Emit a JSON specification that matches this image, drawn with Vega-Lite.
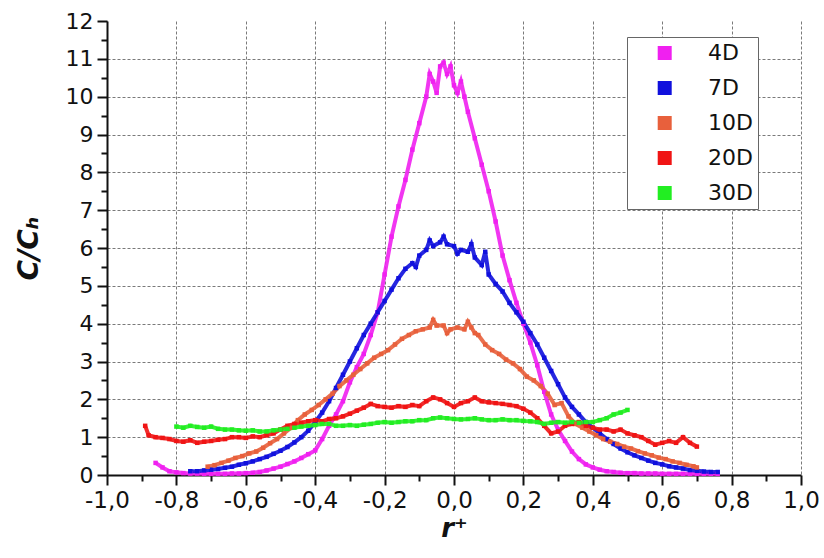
{
  "$schema": "https://vega.github.io/schema/vega-lite/v6.json",
  "width": 694,
  "height": 454,
  "autosize": {"type": "none"},
  "padding": {"left": 107, "top": 21, "right": 23, "bottom": 83},
  "background": "white",
  "config": {
    "font": "DejaVu Sans",
    "view": {"stroke": null},
    "axis": {"labelFont": "DejaVu Sans", "titleFont": "DejaVu Sans", "labelColor": "#111", "titleColor": "#111"},
    "legend": {"labelOffset": 54, "padding": 5, "rowPadding": 13, "labelFontSize": 22, "symbolSize": 196, "symbolOpacity": 1}
  },
  "datasets": {
    "d": [
      {"r":-0.86,"v":0.32,"s":"4D"},{"r":-0.84,"v":0.2,"s":"4D"},{"r":-0.82,"v":0.1,"s":"4D"},{"r":-0.8,"v":0.07,"s":"4D"},{"r":-0.78,"v":0.05,"s":"4D"},{"r":-0.76,"v":0.04,"s":"4D"},{"r":-0.74,"v":0.04,"s":"4D"},{"r":-0.72,"v":0.03,"s":"4D"},{"r":-0.7,"v":0.03,"s":"4D"},{"r":-0.68,"v":0.03,"s":"4D"},{"r":-0.66,"v":0.03,"s":"4D"},{"r":-0.64,"v":0.04,"s":"4D"},{"r":-0.62,"v":0.04,"s":"4D"},{"r":-0.6,"v":0.05,"s":"4D"},{"r":-0.58,"v":0.06,"s":"4D"},{"r":-0.56,"v":0.08,"s":"4D"},{"r":-0.54,"v":0.12,"s":"4D"},{"r":-0.52,"v":0.17,"s":"4D"},{"r":-0.5,"v":0.22,"s":"4D"},{"r":-0.48,"v":0.29,"s":"4D"},{"r":-0.46,"v":0.36,"s":"4D"},{"r":-0.44,"v":0.45,"s":"4D"},{"r":-0.42,"v":0.55,"s":"4D"},{"r":-0.4,"v":0.65,"s":"4D"},{"r":-0.38,"v":0.95,"s":"4D"},{"r":-0.36,"v":1.3,"s":"4D"},{"r":-0.34,"v":1.6,"s":"4D"},{"r":-0.32,"v":1.95,"s":"4D"},{"r":-0.3,"v":2.45,"s":"4D"},{"r":-0.28,"v":2.85,"s":"4D"},{"r":-0.26,"v":3.2,"s":"4D"},{"r":-0.24,"v":3.7,"s":"4D"},{"r":-0.22,"v":4.3,"s":"4D"},{"r":-0.2,"v":5.3,"s":"4D"},{"r":-0.18,"v":6.3,"s":"4D"},{"r":-0.16,"v":7.1,"s":"4D"},{"r":-0.14,"v":7.8,"s":"4D"},{"r":-0.12,"v":8.6,"s":"4D"},{"r":-0.1,"v":9.3,"s":"4D"},{"r":-0.08,"v":10.0,"s":"4D"},{"r":-0.07,"v":10.6,"s":"4D"},{"r":-0.06,"v":10.4,"s":"4D"},{"r":-0.05,"v":10.1,"s":"4D"},{"r":-0.04,"v":10.8,"s":"4D"},{"r":-0.03,"v":10.9,"s":"4D"},{"r":-0.02,"v":10.6,"s":"4D"},{"r":-0.01,"v":10.8,"s":"4D"},{"r":0.0,"v":10.3,"s":"4D"},{"r":0.01,"v":10.1,"s":"4D"},{"r":0.02,"v":10.4,"s":"4D"},{"r":0.03,"v":10.0,"s":"4D"},{"r":0.04,"v":9.6,"s":"4D"},{"r":0.06,"v":8.9,"s":"4D"},{"r":0.08,"v":8.2,"s":"4D"},{"r":0.1,"v":7.5,"s":"4D"},{"r":0.12,"v":6.7,"s":"4D"},{"r":0.14,"v":5.8,"s":"4D"},{"r":0.16,"v":5.15,"s":"4D"},{"r":0.18,"v":4.55,"s":"4D"},{"r":0.2,"v":4.0,"s":"4D"},{"r":0.22,"v":3.5,"s":"4D"},{"r":0.24,"v":2.9,"s":"4D"},{"r":0.26,"v":2.2,"s":"4D"},{"r":0.28,"v":1.6,"s":"4D"},{"r":0.3,"v":1.2,"s":"4D"},{"r":0.32,"v":0.9,"s":"4D"},{"r":0.34,"v":0.62,"s":"4D"},{"r":0.36,"v":0.42,"s":"4D"},{"r":0.38,"v":0.28,"s":"4D"},{"r":0.4,"v":0.2,"s":"4D"},{"r":0.42,"v":0.14,"s":"4D"},{"r":0.44,"v":0.1,"s":"4D"},{"r":0.46,"v":0.08,"s":"4D"},{"r":0.48,"v":0.06,"s":"4D"},{"r":0.5,"v":0.05,"s":"4D"},{"r":0.52,"v":0.05,"s":"4D"},{"r":0.54,"v":0.04,"s":"4D"},{"r":0.56,"v":0.04,"s":"4D"},{"r":0.58,"v":0.04,"s":"4D"},{"r":0.6,"v":0.03,"s":"4D"},{"r":0.62,"v":0.03,"s":"4D"},{"r":0.64,"v":0.03,"s":"4D"},{"r":0.66,"v":0.03,"s":"4D"},{"r":0.68,"v":0.03,"s":"4D"},{"r":0.7,"v":0.03,"s":"4D"},{"r":0.72,"v":0.03,"s":"4D"},{"r":0.74,"v":0.03,"s":"4D"},{"r":0.76,"v":0.03,"s":"4D"},

      {"r":-0.76,"v":0.1,"s":"7D"},{"r":-0.74,"v":0.1,"s":"7D"},{"r":-0.72,"v":0.12,"s":"7D"},{"r":-0.7,"v":0.14,"s":"7D"},{"r":-0.68,"v":0.16,"s":"7D"},{"r":-0.66,"v":0.19,"s":"7D"},{"r":-0.64,"v":0.22,"s":"7D"},{"r":-0.62,"v":0.27,"s":"7D"},{"r":-0.6,"v":0.31,"s":"7D"},{"r":-0.58,"v":0.36,"s":"7D"},{"r":-0.56,"v":0.42,"s":"7D"},{"r":-0.54,"v":0.48,"s":"7D"},{"r":-0.52,"v":0.56,"s":"7D"},{"r":-0.5,"v":0.64,"s":"7D"},{"r":-0.48,"v":0.74,"s":"7D"},{"r":-0.46,"v":0.86,"s":"7D"},{"r":-0.44,"v":1.0,"s":"7D"},{"r":-0.42,"v":1.17,"s":"7D"},{"r":-0.4,"v":1.4,"s":"7D"},{"r":-0.38,"v":1.65,"s":"7D"},{"r":-0.36,"v":1.95,"s":"7D"},{"r":-0.34,"v":2.3,"s":"7D"},{"r":-0.32,"v":2.65,"s":"7D"},{"r":-0.3,"v":3.0,"s":"7D"},{"r":-0.28,"v":3.35,"s":"7D"},{"r":-0.26,"v":3.7,"s":"7D"},{"r":-0.24,"v":4.0,"s":"7D"},{"r":-0.22,"v":4.3,"s":"7D"},{"r":-0.2,"v":4.6,"s":"7D"},{"r":-0.18,"v":4.9,"s":"7D"},{"r":-0.16,"v":5.2,"s":"7D"},{"r":-0.14,"v":5.45,"s":"7D"},{"r":-0.12,"v":5.6,"s":"7D"},{"r":-0.11,"v":5.5,"s":"7D"},{"r":-0.1,"v":5.8,"s":"7D"},{"r":-0.08,"v":5.95,"s":"7D"},{"r":-0.07,"v":6.2,"s":"7D"},{"r":-0.06,"v":6.05,"s":"7D"},{"r":-0.04,"v":6.15,"s":"7D"},{"r":-0.03,"v":6.3,"s":"7D"},{"r":-0.02,"v":6.1,"s":"7D"},{"r":0.0,"v":6.05,"s":"7D"},{"r":0.01,"v":5.85,"s":"7D"},{"r":0.02,"v":5.95,"s":"7D"},{"r":0.04,"v":5.9,"s":"7D"},{"r":0.05,"v":6.1,"s":"7D"},{"r":0.06,"v":5.75,"s":"7D"},{"r":0.08,"v":5.55,"s":"7D"},{"r":0.09,"v":5.9,"s":"7D"},{"r":0.1,"v":5.3,"s":"7D"},{"r":0.12,"v":5.05,"s":"7D"},{"r":0.14,"v":4.85,"s":"7D"},{"r":0.16,"v":4.55,"s":"7D"},{"r":0.18,"v":4.3,"s":"7D"},{"r":0.2,"v":4.05,"s":"7D"},{"r":0.22,"v":3.75,"s":"7D"},{"r":0.24,"v":3.45,"s":"7D"},{"r":0.26,"v":3.1,"s":"7D"},{"r":0.28,"v":2.75,"s":"7D"},{"r":0.3,"v":2.4,"s":"7D"},{"r":0.32,"v":2.05,"s":"7D"},{"r":0.34,"v":1.8,"s":"7D"},{"r":0.36,"v":1.6,"s":"7D"},{"r":0.38,"v":1.4,"s":"7D"},{"r":0.4,"v":1.25,"s":"7D"},{"r":0.42,"v":1.1,"s":"7D"},{"r":0.44,"v":0.95,"s":"7D"},{"r":0.46,"v":0.82,"s":"7D"},{"r":0.48,"v":0.7,"s":"7D"},{"r":0.5,"v":0.6,"s":"7D"},{"r":0.52,"v":0.52,"s":"7D"},{"r":0.54,"v":0.45,"s":"7D"},{"r":0.56,"v":0.38,"s":"7D"},{"r":0.58,"v":0.32,"s":"7D"},{"r":0.6,"v":0.28,"s":"7D"},{"r":0.62,"v":0.23,"s":"7D"},{"r":0.64,"v":0.2,"s":"7D"},{"r":0.66,"v":0.17,"s":"7D"},{"r":0.68,"v":0.13,"s":"7D"},{"r":0.7,"v":0.11,"s":"7D"},{"r":0.72,"v":0.09,"s":"7D"},{"r":0.74,"v":0.08,"s":"7D"},{"r":0.76,"v":0.08,"s":"7D"},

      {"r":-0.71,"v":0.22,"s":"10D"},{"r":-0.69,"v":0.26,"s":"10D"},{"r":-0.67,"v":0.32,"s":"10D"},{"r":-0.65,"v":0.38,"s":"10D"},{"r":-0.63,"v":0.45,"s":"10D"},{"r":-0.61,"v":0.5,"s":"10D"},{"r":-0.59,"v":0.57,"s":"10D"},{"r":-0.57,"v":0.62,"s":"10D"},{"r":-0.55,"v":0.72,"s":"10D"},{"r":-0.53,"v":0.84,"s":"10D"},{"r":-0.51,"v":0.95,"s":"10D"},{"r":-0.49,"v":1.1,"s":"10D"},{"r":-0.47,"v":1.25,"s":"10D"},{"r":-0.45,"v":1.45,"s":"10D"},{"r":-0.43,"v":1.6,"s":"10D"},{"r":-0.41,"v":1.72,"s":"10D"},{"r":-0.39,"v":1.85,"s":"10D"},{"r":-0.37,"v":2.0,"s":"10D"},{"r":-0.35,"v":2.15,"s":"10D"},{"r":-0.33,"v":2.35,"s":"10D"},{"r":-0.31,"v":2.5,"s":"10D"},{"r":-0.29,"v":2.65,"s":"10D"},{"r":-0.27,"v":2.8,"s":"10D"},{"r":-0.25,"v":2.95,"s":"10D"},{"r":-0.23,"v":3.1,"s":"10D"},{"r":-0.21,"v":3.2,"s":"10D"},{"r":-0.19,"v":3.3,"s":"10D"},{"r":-0.17,"v":3.45,"s":"10D"},{"r":-0.15,"v":3.6,"s":"10D"},{"r":-0.13,"v":3.7,"s":"10D"},{"r":-0.11,"v":3.8,"s":"10D"},{"r":-0.09,"v":3.85,"s":"10D"},{"r":-0.07,"v":3.9,"s":"10D"},{"r":-0.06,"v":4.1,"s":"10D"},{"r":-0.05,"v":3.95,"s":"10D"},{"r":-0.03,"v":3.95,"s":"10D"},{"r":-0.02,"v":3.75,"s":"10D"},{"r":-0.01,"v":3.85,"s":"10D"},{"r":0.01,"v":3.9,"s":"10D"},{"r":0.03,"v":3.85,"s":"10D"},{"r":0.04,"v":4.05,"s":"10D"},{"r":0.05,"v":3.9,"s":"10D"},{"r":0.06,"v":3.75,"s":"10D"},{"r":0.07,"v":3.7,"s":"10D"},{"r":0.09,"v":3.45,"s":"10D"},{"r":0.11,"v":3.3,"s":"10D"},{"r":0.13,"v":3.2,"s":"10D"},{"r":0.15,"v":3.05,"s":"10D"},{"r":0.17,"v":2.95,"s":"10D"},{"r":0.19,"v":2.8,"s":"10D"},{"r":0.21,"v":2.6,"s":"10D"},{"r":0.23,"v":2.5,"s":"10D"},{"r":0.25,"v":2.35,"s":"10D"},{"r":0.27,"v":2.15,"s":"10D"},{"r":0.29,"v":1.85,"s":"10D"},{"r":0.31,"v":1.9,"s":"10D"},{"r":0.33,"v":1.55,"s":"10D"},{"r":0.35,"v":1.35,"s":"10D"},{"r":0.37,"v":1.25,"s":"10D"},{"r":0.39,"v":1.15,"s":"10D"},{"r":0.41,"v":1.05,"s":"10D"},{"r":0.43,"v":0.95,"s":"10D"},{"r":0.45,"v":0.88,"s":"10D"},{"r":0.47,"v":0.82,"s":"10D"},{"r":0.49,"v":0.75,"s":"10D"},{"r":0.51,"v":0.7,"s":"10D"},{"r":0.53,"v":0.63,"s":"10D"},{"r":0.55,"v":0.57,"s":"10D"},{"r":0.57,"v":0.52,"s":"10D"},{"r":0.59,"v":0.46,"s":"10D"},{"r":0.61,"v":0.42,"s":"10D"},{"r":0.63,"v":0.36,"s":"10D"},{"r":0.65,"v":0.32,"s":"10D"},{"r":0.67,"v":0.27,"s":"10D"},{"r":0.69,"v":0.23,"s":"10D"},{"r":0.7,"v":0.2,"s":"10D"},

      {"r":-0.89,"v":1.3,"s":"20D"},{"r":-0.88,"v":1.05,"s":"20D"},{"r":-0.86,"v":1.0,"s":"20D"},{"r":-0.84,"v":0.98,"s":"20D"},{"r":-0.82,"v":0.95,"s":"20D"},{"r":-0.8,"v":0.9,"s":"20D"},{"r":-0.78,"v":0.88,"s":"20D"},{"r":-0.76,"v":0.92,"s":"20D"},{"r":-0.74,"v":0.85,"s":"20D"},{"r":-0.72,"v":0.88,"s":"20D"},{"r":-0.7,"v":0.9,"s":"20D"},{"r":-0.68,"v":0.93,"s":"20D"},{"r":-0.66,"v":0.95,"s":"20D"},{"r":-0.64,"v":1.0,"s":"20D"},{"r":-0.62,"v":1.0,"s":"20D"},{"r":-0.6,"v":0.98,"s":"20D"},{"r":-0.58,"v":1.02,"s":"20D"},{"r":-0.56,"v":1.0,"s":"20D"},{"r":-0.54,"v":1.05,"s":"20D"},{"r":-0.52,"v":1.1,"s":"20D"},{"r":-0.5,"v":1.2,"s":"20D"},{"r":-0.48,"v":1.3,"s":"20D"},{"r":-0.46,"v":1.35,"s":"20D"},{"r":-0.44,"v":1.38,"s":"20D"},{"r":-0.42,"v":1.42,"s":"20D"},{"r":-0.4,"v":1.45,"s":"20D"},{"r":-0.38,"v":1.42,"s":"20D"},{"r":-0.36,"v":1.48,"s":"20D"},{"r":-0.34,"v":1.5,"s":"20D"},{"r":-0.32,"v":1.55,"s":"20D"},{"r":-0.3,"v":1.62,"s":"20D"},{"r":-0.28,"v":1.7,"s":"20D"},{"r":-0.26,"v":1.78,"s":"20D"},{"r":-0.24,"v":1.88,"s":"20D"},{"r":-0.22,"v":1.82,"s":"20D"},{"r":-0.2,"v":1.8,"s":"20D"},{"r":-0.18,"v":1.78,"s":"20D"},{"r":-0.16,"v":1.82,"s":"20D"},{"r":-0.14,"v":1.8,"s":"20D"},{"r":-0.12,"v":1.85,"s":"20D"},{"r":-0.1,"v":1.82,"s":"20D"},{"r":-0.08,"v":1.95,"s":"20D"},{"r":-0.06,"v":2.05,"s":"20D"},{"r":-0.04,"v":2.0,"s":"20D"},{"r":-0.02,"v":1.9,"s":"20D"},{"r":0.0,"v":1.8,"s":"20D"},{"r":0.02,"v":1.9,"s":"20D"},{"r":0.04,"v":1.95,"s":"20D"},{"r":0.06,"v":2.05,"s":"20D"},{"r":0.08,"v":1.95,"s":"20D"},{"r":0.1,"v":1.92,"s":"20D"},{"r":0.12,"v":1.9,"s":"20D"},{"r":0.14,"v":1.88,"s":"20D"},{"r":0.16,"v":1.85,"s":"20D"},{"r":0.18,"v":1.82,"s":"20D"},{"r":0.2,"v":1.75,"s":"20D"},{"r":0.22,"v":1.65,"s":"20D"},{"r":0.24,"v":1.5,"s":"20D"},{"r":0.26,"v":1.3,"s":"20D"},{"r":0.28,"v":1.1,"s":"20D"},{"r":0.3,"v":1.15,"s":"20D"},{"r":0.32,"v":1.3,"s":"20D"},{"r":0.34,"v":1.35,"s":"20D"},{"r":0.36,"v":1.4,"s":"20D"},{"r":0.38,"v":1.3,"s":"20D"},{"r":0.4,"v":1.25,"s":"20D"},{"r":0.42,"v":1.2,"s":"20D"},{"r":0.44,"v":1.2,"s":"20D"},{"r":0.46,"v":1.15,"s":"20D"},{"r":0.48,"v":1.2,"s":"20D"},{"r":0.5,"v":1.1,"s":"20D"},{"r":0.52,"v":1.05,"s":"20D"},{"r":0.54,"v":1.0,"s":"20D"},{"r":0.56,"v":0.9,"s":"20D"},{"r":0.58,"v":0.8,"s":"20D"},{"r":0.6,"v":0.85,"s":"20D"},{"r":0.62,"v":0.9,"s":"20D"},{"r":0.64,"v":0.85,"s":"20D"},{"r":0.66,"v":1.0,"s":"20D"},{"r":0.68,"v":0.85,"s":"20D"},{"r":0.7,"v":0.75,"s":"20D"},

      {"r":-0.8,"v":1.28,"s":"30D"},{"r":-0.78,"v":1.25,"s":"30D"},{"r":-0.76,"v":1.3,"s":"30D"},{"r":-0.74,"v":1.27,"s":"30D"},{"r":-0.72,"v":1.25,"s":"30D"},{"r":-0.7,"v":1.28,"s":"30D"},{"r":-0.68,"v":1.22,"s":"30D"},{"r":-0.66,"v":1.2,"s":"30D"},{"r":-0.64,"v":1.2,"s":"30D"},{"r":-0.62,"v":1.18,"s":"30D"},{"r":-0.6,"v":1.17,"s":"30D"},{"r":-0.58,"v":1.18,"s":"30D"},{"r":-0.56,"v":1.15,"s":"30D"},{"r":-0.54,"v":1.15,"s":"30D"},{"r":-0.52,"v":1.18,"s":"30D"},{"r":-0.5,"v":1.2,"s":"30D"},{"r":-0.48,"v":1.22,"s":"30D"},{"r":-0.46,"v":1.25,"s":"30D"},{"r":-0.44,"v":1.28,"s":"30D"},{"r":-0.42,"v":1.3,"s":"30D"},{"r":-0.4,"v":1.32,"s":"30D"},{"r":-0.38,"v":1.35,"s":"30D"},{"r":-0.36,"v":1.35,"s":"30D"},{"r":-0.34,"v":1.3,"s":"30D"},{"r":-0.32,"v":1.3,"s":"30D"},{"r":-0.3,"v":1.32,"s":"30D"},{"r":-0.28,"v":1.3,"s":"30D"},{"r":-0.26,"v":1.33,"s":"30D"},{"r":-0.24,"v":1.35,"s":"30D"},{"r":-0.22,"v":1.38,"s":"30D"},{"r":-0.2,"v":1.4,"s":"30D"},{"r":-0.18,"v":1.38,"s":"30D"},{"r":-0.16,"v":1.4,"s":"30D"},{"r":-0.14,"v":1.42,"s":"30D"},{"r":-0.12,"v":1.42,"s":"30D"},{"r":-0.1,"v":1.45,"s":"30D"},{"r":-0.08,"v":1.45,"s":"30D"},{"r":-0.06,"v":1.5,"s":"30D"},{"r":-0.04,"v":1.52,"s":"30D"},{"r":-0.02,"v":1.5,"s":"30D"},{"r":0.0,"v":1.48,"s":"30D"},{"r":0.02,"v":1.47,"s":"30D"},{"r":0.04,"v":1.48,"s":"30D"},{"r":0.06,"v":1.5,"s":"30D"},{"r":0.08,"v":1.47,"s":"30D"},{"r":0.1,"v":1.45,"s":"30D"},{"r":0.12,"v":1.45,"s":"30D"},{"r":0.14,"v":1.47,"s":"30D"},{"r":0.16,"v":1.45,"s":"30D"},{"r":0.18,"v":1.45,"s":"30D"},{"r":0.2,"v":1.43,"s":"30D"},{"r":0.22,"v":1.42,"s":"30D"},{"r":0.24,"v":1.4,"s":"30D"},{"r":0.26,"v":1.35,"s":"30D"},{"r":0.28,"v":1.38,"s":"30D"},{"r":0.3,"v":1.4,"s":"30D"},{"r":0.32,"v":1.38,"s":"30D"},{"r":0.34,"v":1.4,"s":"30D"},{"r":0.36,"v":1.38,"s":"30D"},{"r":0.38,"v":1.4,"s":"30D"},{"r":0.4,"v":1.4,"s":"30D"},{"r":0.42,"v":1.45,"s":"30D"},{"r":0.44,"v":1.5,"s":"30D"},{"r":0.46,"v":1.6,"s":"30D"},{"r":0.48,"v":1.65,"s":"30D"},{"r":0.5,"v":1.72,"s":"30D"}
    ]
  },
  "data": {"name": "d"},
  "layer": [
    {
      "mark": {"type": "point", "opacity": 0, "filled": true, "shape": "M2.1,-1H4.1V1H2.1Z"},
      "encoding": {
        "x": {"field": "r", "type": "quantitative", "scale": {"domain": [-1, 1], "nice": false, "zero": false},
          "axis": {"orient": "bottom", "values": [-0.9,-0.7,-0.5,-0.3,-0.1,0.1,0.3,0.5,0.7,0.9], "labels": false, "grid": false, "domain": false, "ticks": true, "tickSize": 6, "tickWidth": 2, "tickColor": "#111", "title": null}},
        "y": {"field": "v", "type": "quantitative", "scale": {"domain": [0, 12], "nice": false},
          "axis": {"orient": "left", "values": [0.5,1.5,2.5,3.5,4.5,5.5,6.5,7.5,8.5,9.5,10.5,11.5], "labels": false, "grid": false, "domain": false, "ticks": true, "tickSize": 6, "tickWidth": 2, "tickColor": "#111", "title": null}},
        "fill": {"field": "s", "type": "nominal",
          "scale": {"domain": ["4D", "7D", "10D", "20D", "30D"], "range": ["#f020f0", "#1010dd", "#e8603c", "#f01414", "#22ee22"]},
          "legend": {"orient": "none", "legendX": 520, "legendY": 16, "title": null, "symbolOpacity": 1,
            "labelFont": "DejaVu Sans", "labelColor": "#111",
            "strokeColor": "#666", "fillColor": "white", "symbolStrokeWidth": 0}}
      }
    },
    {
      "mark": {"type": "line", "strokeWidth": 4, "opacity": 0.9},
      "encoding": {
        "x": {"field": "r", "type": "quantitative",
          "axis": {"orient": "bottom", "values": [-1,-0.8,-0.6,-0.4,-0.2,0,0.2,0.4,0.6,0.8,1],
            "labelExpr": "replace(replace(format(datum.value, '.1f'), '.', ','), '\u2212', '-')",
            "labelFlush": false, "labelOverlap": false,
            "labelFontSize": 23, "labelPadding": 4, "tickSize": 10, "tickWidth": 2, "tickColor": "#111",
            "domainColor": "#111", "domainWidth": 2, "grid": true, "gridColor": "#7a7a7a", "gridDash": [3, 2], "gridWidth": 1,
            "title": "r\u207a", "titleFontSize": 26, "titleFontStyle": "italic", "titleFontWeight": "bold", "titlePadding": 3}},
        "y": {"field": "v", "type": "quantitative",
          "axis": {"orient": "left", "values": [0,1,2,3,4,5,6,7,8,9,10,11,12], "labelFontSize": 22, "labelPadding": 4,
            "labelFlush": false, "labelOverlap": false,
            "tickSize": 10, "tickWidth": 2, "tickColor": "#111", "domainColor": "#111", "domainWidth": 2,
            "grid": true, "gridColor": "#7a7a7a", "gridDash": [3, 2], "gridWidth": 1,
            "gridOpacity": {"condition": {"test": "datum.value >= 12", "value": 0}, "value": 1},
            "title": "C/C\u2095", "titleFontSize": 28, "titleFontStyle": "italic", "titleFontWeight": "bold", "titlePadding": 22}},
        "color": {"field": "s", "type": "nominal", "legend": null,
          "scale": {"domain": ["4D", "7D", "10D", "20D", "30D"], "range": ["#f020f0", "#1010dd", "#e8603c", "#f01414", "#22ee22"]}}
      }
    },
    {
      "mark": {"type": "square", "size": 20, "opacity": 1},
      "encoding": {
        "x": {"field": "r", "type": "quantitative", "axis": null},
        "y": {"field": "v", "type": "quantitative", "axis": null},
        "color": {"field": "s", "type": "nominal", "legend": null,
          "scale": {"domain": ["4D", "7D", "10D", "20D", "30D"], "range": ["#f020f0", "#1010dd", "#e8603c", "#f01414", "#22ee22"]}}
      }
    }
  ],
  "resolve": {"axis": {"x": "independent", "y": "independent"}, "legend": {"color": "independent", "fill": "independent"}, "scale": {"color": "independent", "fill": "independent"}}
}
